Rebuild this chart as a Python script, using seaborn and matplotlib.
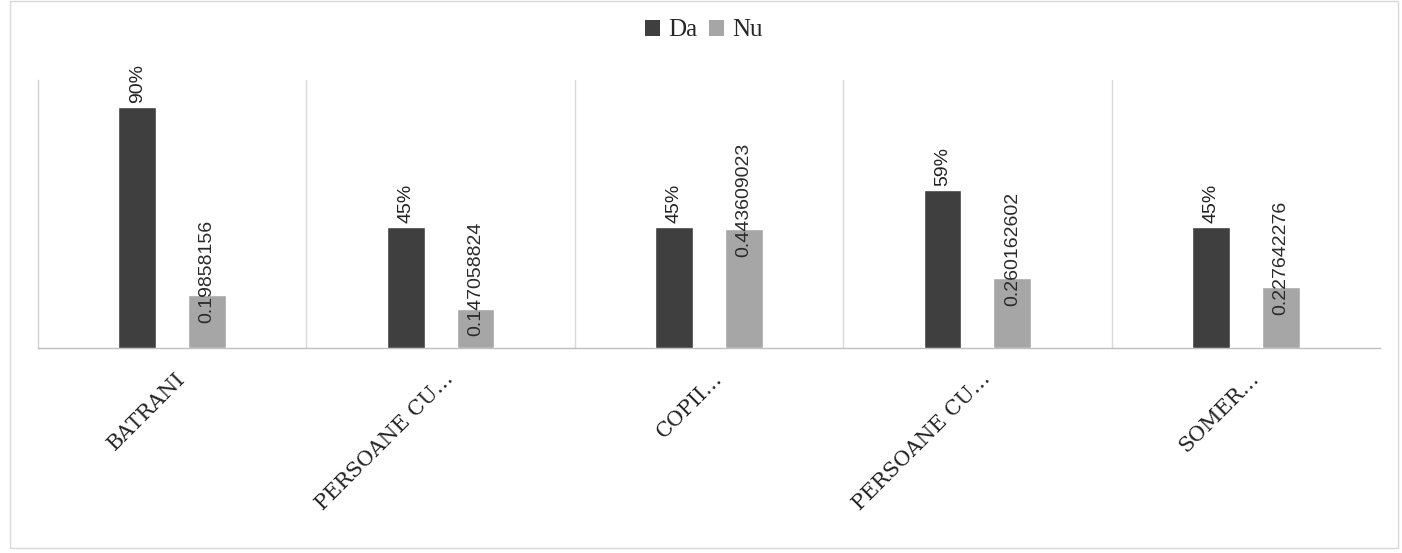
import matplotlib
matplotlib.use("Agg")
import matplotlib.pyplot as plt
import matplotlib.transforms as mtransforms
import seaborn as sns
import pandas as pd
from matplotlib.patches import Rectangle, Patch

categories = ["BATRANI", "PERSOANE CU…", "COPII…", "PERSOANE CU…", "SOMER…"]
series_names = ["Da", "Nu"]
da_values = [0.90, 0.45, 0.45, 0.59, 0.45]
nu_values = [0.19858156, 0.147058824, 0.443609023, 0.260162602, 0.227642276]
da_labels = ["90%", "45%", "45%", "59%", "45%"]
nu_labels = ["0.19858156", "0.147058824", "0.443609023", "0.260162602", "0.227642276"]

colors = {"Da": "#3f3f3f", "Nu": "#a6a6a6"}

ids = [f"c{i}" for i in range(len(categories))]
df = pd.DataFrame({
    "cat": ids * 2,
    "serie": [series_names[0]] * len(ids) + [series_names[1]] * len(ids),
    "val": da_values + nu_values,
})

sns.set_theme(style="white")
plt.rcParams["font.family"] = ["Liberation Sans", "DejaVu Sans"]

fig = plt.figure(figsize=(14.02, 5.53), dpi=100)
ax = fig.add_axes([38 / 1402, 205 / 553, (1380 - 38) / 1402, (348 - 80) / 553])

sns.barplot(data=df, x="cat", y="val", hue="serie", order=ids,
            hue_order=series_names, palette=colors, width=0.52, gap=0.46,
            saturation=1, legend=False, ax=ax, zorder=3)

ax.set_ylim(0, 1.0)
ax.set_xlim(-0.5, len(ids) - 0.5)
ax.set_yticks([])
ax.set_xlabel("")
ax.set_ylabel("")

for s in ["top", "right"]:
    ax.spines[s].set_visible(False)
ax.spines["left"].set_color("#d0d0d0")
ax.spines["bottom"].set_color("#bfbfbf")
ax.spines["left"].set_linewidth(1)
ax.spines["bottom"].set_linewidth(1)

for b in range(1, len(ids)):
    ax.axvline(b - 0.5, color="#d9d9d9", lw=1, zorder=1)

# value labels
da_cont, nu_cont = ax.containers[0], ax.containers[1]
for bar, lab in zip(da_cont, da_labels):
    ax.annotate(lab, (bar.get_x() + bar.get_width() / 2, bar.get_height()),
                xytext=(0, 3), textcoords="offset points", rotation=90,
                ha="center", va="bottom", fontsize=14, color="#222222", zorder=4)
for bar, lab in zip(nu_cont, nu_labels):
    ax.annotate(lab, (bar.get_x() + bar.get_width() / 2, bar.get_height()),
                xytext=(0, -20), textcoords="offset points", rotation=90,
                ha="center", va="bottom", fontsize=14, color="#2a2a2a", zorder=4)

ax.set_xticks(range(len(ids)))
ax.set_xticklabels(categories, rotation=45, ha="right", va="center",
                   rotation_mode="anchor", fontsize=15,
                   family=["DejaVu Serif"], color="#222222")
ax.tick_params(axis="x", length=0, pad=20)
shift = mtransforms.ScaledTranslation(10 / 100, 0, fig.dpi_scale_trans)
for lbl in ax.get_xticklabels():
    lbl.set_transform(lbl.get_transform() + shift)

# legend
handles = [Patch(facecolor=colors[s], edgecolor="none", label=s) for s in series_names]
fig.legend(handles=handles, loc="center", bbox_to_anchor=(0.502, 0.945), ncol=2,
           frameon=False, prop={"family": ["Liberation Serif", "DejaVu Serif"], "size": 18},
           handlelength=0.6, handleheight=0.6, handletextpad=0.3, columnspacing=0.5)

# outer frame
fig.patches.append(Rectangle((10 / 1402, 5 / 553), 1388 / 1402, 547 / 553,
                             transform=fig.transFigure, fill=False,
                             edgecolor="#d9d9d9", lw=1))

fig.savefig("out.png", dpi=100)
